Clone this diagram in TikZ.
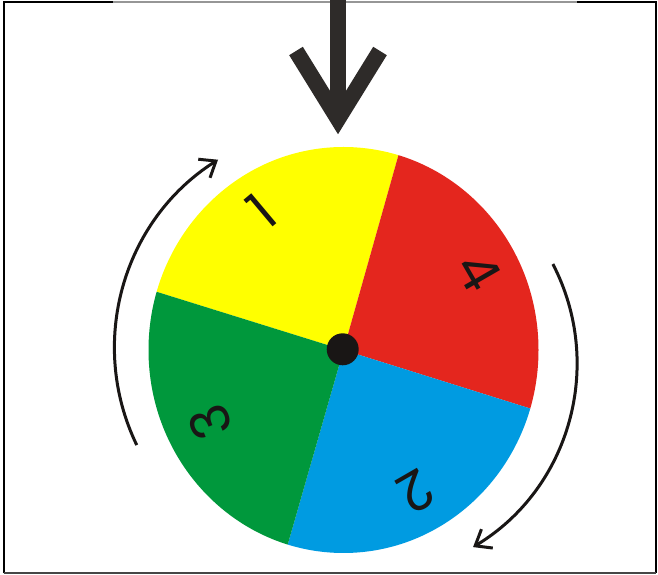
\documentclass[tikz,border=0pt]{standalone}
\usepackage{fontspec}
\setmainfont{Poppins}
\usetikzlibrary{arrows.meta}
\definecolor{wyellow}{RGB}{255,255,0}
\definecolor{wred}{RGB}{228,38,30}
\definecolor{wblue}{RGB}{0,155,225}
\definecolor{wgreen}{RGB}{0,152,60}
\definecolor{arrowdark}{RGB}{46,43,41}
\definecolor{inkblack}{RGB}{25,22,21}
\definecolor{framegray}{RGB}{150,150,150}
\definecolor{framedark}{RGB}{70,70,70}
\begin{document}
\begin{tikzpicture}[x=1pt,y=1pt,
  digit/.style={font=\fontsize{54}{54}\selectfont, text=inkblack, inner sep=0pt},
  turnarrow/.style={line width=3pt, draw=inkblack, -{Straight Barb[length=14pt,width=22pt]}},
  bigarrow/.style={draw=arrowdark, line width=16pt},
  frameline/.style={line width=2pt}]
\useasboundingbox (0,0) rectangle (658,575);
\fill[white] (0,0) rectangle (658,575);
% frame
\draw[frameline, black] (4,1.5) -- (4,572.5) -- (113,572.5);
\draw[frameline, framegray] (113,572.5) -- (577,572.5);
\draw[frameline, black] (577,572.5) -- (656,572.5) -- (656,1.5);
\draw[frameline, framedark] (4,1.5) -- (656,1.5);
% wheel
\coordinate (C) at (343.5,225);
\begin{scope}
  \clip (C) ellipse [x radius=195, y radius=203];
  \fill[wyellow] (C) -- +(74.25:400) arc[start angle=74.25, end angle=162.7, radius=400] -- cycle;
  \fill[wred] (C) -- +(-17.4:400) arc[start angle=-17.4, end angle=74.25, radius=400] -- cycle;
  \fill[wblue] (C) -- +(-106:400) arc[start angle=-106, end angle=-17.4, radius=400] -- cycle;
  \fill[wgreen] (C) -- +(162.7:400) arc[start angle=162.7, end angle=254, radius=400] -- cycle;
\end{scope}
\node[circle, fill=inkblack, minimum size=32pt, inner sep=0pt] (hub) at (342.7,225.7) {};
% digits
\node[digit, rotate=40] (n1) at (262,364) {1};
\node[digit, rotate=-60] (n4) at (479,303) {4};
\node[digit, rotate=-150] (n2) at (416,84) {2};
\node[digit, rotate=112] (n3) at (210,153) {3};
% turning arrows
\draw[turnarrow] (337.5,227) ++(205.8:223) arc[start angle=205.8, end angle=122.4, radius=223];
\draw[turnarrow] (362,212) ++(27.4:215) arc[start angle=27.4, end angle=-58.9, radius=215];
% big pointer arrow
\draw[bigarrow] (338,577) -- (338,462);
\draw[bigarrow, miter limit=10] (296,524) -- (338,456) -- (380,524);
\end{tikzpicture}
\end{document}
